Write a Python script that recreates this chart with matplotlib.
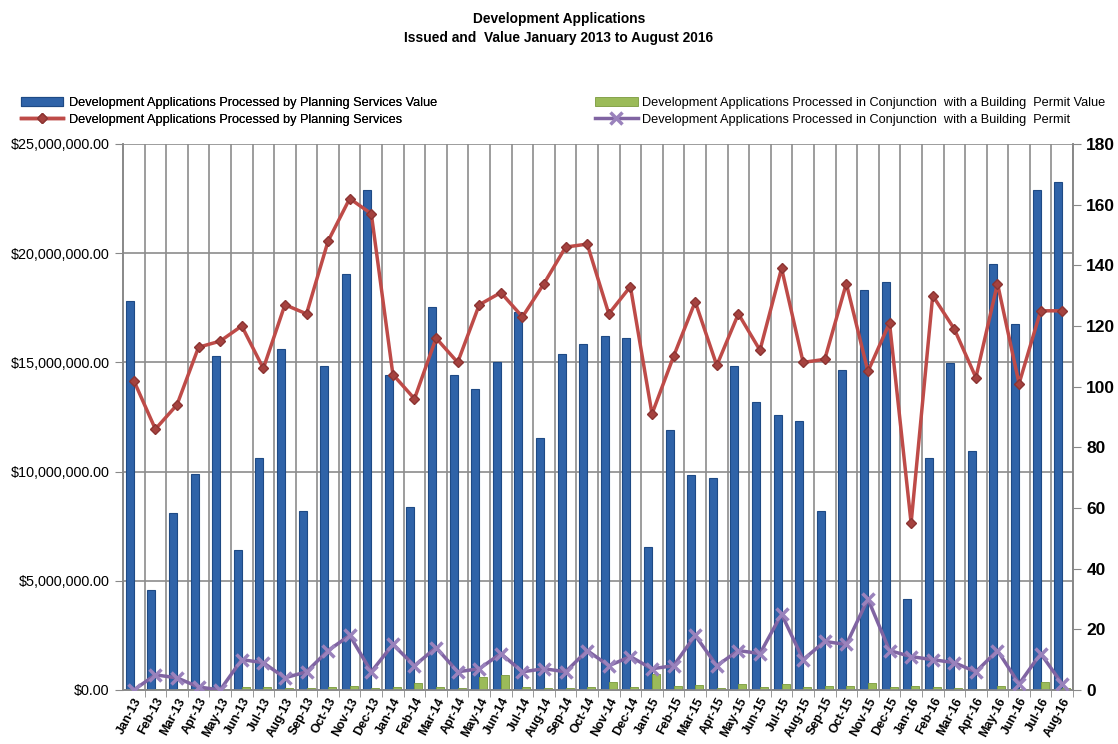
import numpy as np
import matplotlib
matplotlib.use("Agg")
import matplotlib.pyplot as plt
from matplotlib.ticker import FuncFormatter, MultipleLocator

months = ["Jan-13", "Feb-13", "Mar-13", "Apr-13", "May-13", "Jun-13", "Jul-13", "Aug-13",
          "Sep-13", "Oct-13", "Nov-13", "Dec-13", "Jan-14", "Feb-14", "Mar-14", "Apr-14",
          "May-14", "Jun-14", "Jul-14", "Aug-14", "Sep-14", "Oct-14", "Nov-14", "Dec-14",
          "Jan-15", "Feb-15", "Mar-15", "Apr-15", "May-15", "Jun-15", "Jul-15", "Aug-15",
          "Sep-15", "Oct-15", "Nov-15", "Dec-15", "Jan-16", "Feb-16", "Mar-16", "Apr-16",
          "May-16", "Jun-16", "Jul-16", "Aug-16"]

planning_value = [17.8, 4.6, 8.1, 9.9, 15.3, 6.4, 10.6, 15.6, 8.2, 14.85, 19.05, 22.9,
                  14.4, 8.4, 17.55, 14.4, 13.8, 15.0, 17.3, 11.55, 15.4, 15.85, 16.2, 16.1,
                  6.55, 11.9, 9.85, 9.7, 14.85, 13.2, 12.6, 12.3, 8.2, 14.65, 18.3, 18.7,
                  4.15, 10.6, 14.95, 10.95, 19.5, 16.75, 22.9, 23.25]  # $ millions

building_value = [0.02, 0.06, 0.05, 0.03, 0.01, 0.15, 0.12, 0.08, 0.08, 0.15, 0.2, 0.08,
                  0.15, 0.34, 0.15, 0.08, 0.61, 0.69, 0.12, 0.08, 0.08, 0.15, 0.38, 0.15,
                  0.72, 0.2, 0.23, 0.1, 0.26, 0.15, 0.26, 0.15, 0.18, 0.2, 0.34, 0.15,
                  0.2, 0.12, 0.08, 0.05, 0.18, 0.05, 0.38, 0.08]  # $ millions

planning_count = [102, 86, 94, 113, 115, 120, 106, 127, 124, 148, 162, 157,
                  104, 96, 116, 108, 127, 131, 123, 134, 146, 147, 124, 133,
                  91, 110, 128, 107, 124, 112, 139, 108, 109, 134, 105, 121,
                  55, 130, 119, 103, 134, 101, 125, 125]

building_count = [0, 5, 4, 1, 0, 10, 9, 4, 6, 13, 18, 6,
                  15, 8, 14, 6, 7, 12, 6, 7, 6, 13, 8, 11,
                  7, 8, 18, 8, 13, 12, 25, 10, 16, 15, 30, 13,
                  11, 10, 9, 6, 13, 2, 12, 2]

title_lines = ["Development Applications", "Issued and  Value January 2013 to August 2016"]
legend_labels = ["Development Applications Processed by Planning Services Value",
                 "Development Applications Processed by Planning Services",
                 "Development Applications Processed in Conjunction  with a Building  Permit Value",
                 "Development Applications Processed in Conjunction  with a Building  Permit"]

FONT = ['Liberation Sans', 'DejaVu Sans']
plt.rcParams['font.family'] = FONT

fig = plt.figure(figsize=(11.18, 7.44), dpi=100)
ax = fig.add_axes([0.110, 0.0726, 0.8498, 0.7339])
ax2 = ax.twinx()

x = np.arange(len(months))
w = 0.37
pv = np.array(planning_value) * 1e6
bv = np.array(building_value) * 1e6

b1 = ax.bar(x - w / 2, pv, width=w, color='#2F63A8', edgecolor='#1E4A85', linewidth=0.8, zorder=3)
b2 = ax.bar(x + w / 2, bv, width=w, color='#9BBB59', edgecolor='#7A9A3C', linewidth=0.6, zorder=3)

l1, = ax2.plot(x, planning_count, color='#BE4B48', linewidth=2.5, marker='D', markersize=5.5,
               markerfacecolor='#A5423F', markeredgecolor='#8C3432', zorder=4)
l2, = ax2.plot(x, building_count, color='#8064A2', linewidth=2.5, marker='x', markersize=8.5,
               markeredgewidth=2.5, markeredgecolor='#9A82BC', zorder=4)

ax.set_xlim(-0.5, len(months) - 0.5)
ax.set_ylim(0, 25e6)
ax2.set_ylim(0, 180)
ax.yaxis.set_major_locator(MultipleLocator(5e6))
ax2.yaxis.set_major_locator(MultipleLocator(20))
ax.yaxis.set_major_formatter(FuncFormatter(lambda v, p: "${:,.2f}".format(v)))

ax.set_xticks(x)
ax.set_xticklabels(months, rotation=62, ha='right', rotation_mode='anchor',
                   fontsize=9, fontweight='bold')
ax.set_xticks(x + 0.5, minor=True)
ax.tick_params(axis='x', which='major', length=0, pad=4)
ax.tick_params(axis='x', which='minor', length=5, color='#888888')
ax.tick_params(axis='y', labelsize=10.4, length=6, color='#888888')
ax2.tick_params(axis='y', labelsize=12.5, length=6, color='#888888')
for t in ax2.get_yticklabels():
    t.set_fontweight('bold')

ax.grid(True, which='major', axis='y', color='#8C8C8C', linewidth=1.2, zorder=0)
ax.grid(True, which='minor', axis='x', color='#8C8C8C', linewidth=1.2, zorder=0)
ax.set_axisbelow(True)

for a in (ax, ax2):
    a.spines['top'].set_visible(False)
    for s in ('left', 'right', 'bottom'):
        a.spines[s].set_color('#888888')
        a.spines[s].set_linewidth(1.2)

fig.text(0.5, 0.975, title_lines[0], ha='center', va='center', fontsize=9.9, fontweight='bold')
fig.text(0.5, 0.949, title_lines[1], ha='center', va='center', fontsize=9.9, fontweight='bold')

leg1 = fig.legend([b1, l1], legend_labels[:2], loc='upper left', bbox_to_anchor=(0.014, 0.876),
                  frameon=False, fontsize=9.2, handlelength=3.3, handletextpad=0.45,
                  labelspacing=0.35, borderaxespad=0)
leg2 = fig.legend([b2, l2], legend_labels[2:], loc='upper left', bbox_to_anchor=(0.528, 0.876),
                  frameon=False, fontsize=9.2, handlelength=3.3, handletextpad=0.35,
                  labelspacing=0.35, borderaxespad=0)
fig.add_artist(leg1)

fig.savefig("out.png", dpi=100)
